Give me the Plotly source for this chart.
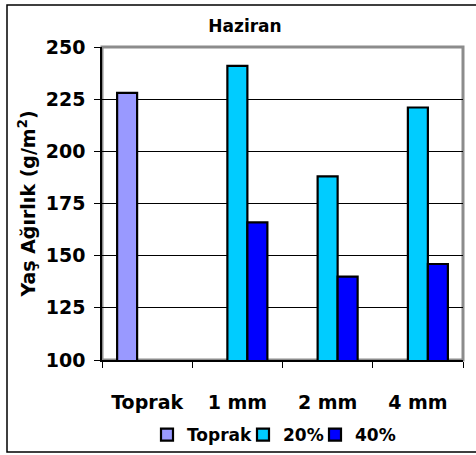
import plotly.graph_objects as go

# Categories and series values (fresh weight, g/m²)
categories = ["Toprak", "1 mm", "2 mm", "4 mm"]
series_names = ["Toprak", "20%", "40%"]
toprak_vals = [228, None, None, None]
pct20_vals = [None, 241, 188, 221]
pct40_vals = [None, 166, 140, 146]
y_ticks = [100, 125, 150, 175, 200, 225, 250]

colors = ["#9999FF", "#00CCFF", "#0000FF"]
legend_widths = [51, 27, 45]
FONT = "DejaVu Sans"

W, H = 476, 455
ML, MR, MT, MB = 102, 13, 47, 95
PW, PH = W - ML - MR, H - MT - MB

fig = go.Figure()
for name, vals, col, lw in zip(series_names, [toprak_vals, pct20_vals, pct40_vals], colors, legend_widths):
    fig.add_trace(go.Bar(
        x=categories, y=vals, name=name,
        marker=dict(color=col, line=dict(color="black", width=2.2)),
        legendwidth=lw,
    ))

def px_x(p):
    return (p - ML) / PW

def px_y(p):
    return (H - MB - p) / PH

shapes = [
    # grey plot-area frame
    dict(type="rect", xref="paper", yref="paper", x0=0, x1=1, y0=0, y1=1,
         line=dict(color="#8c8c8c", width=3), layer="below"),
    # outer chart border
    dict(type="rect", xref="paper", yref="paper",
         x0=px_x(7), x1=px_x(490), y0=px_y(452), y1=px_y(5),
         line=dict(color="black", width=1.5)),
]

fig.update_layout(
    width=W, height=H,
    margin=dict(l=ML, r=MR, t=MT, b=MB, autoexpand=False),
    paper_bgcolor="white", plot_bgcolor="white",
    barmode="group", bargap=0.335, bargroupgap=0,
    font=dict(family=FONT, color="black"),
    title=dict(text="<b>Haziran</b>", font=dict(family=FONT, size=17, color="black"),
               xref="container", yref="container", x=245 / W, xanchor="center",
               y=1 - 26 / H, yanchor="middle"),
    legend=dict(orientation="h", xref="paper", yref="paper",
                x=px_x(147), xanchor="left", y=px_y(435), yanchor="middle",
                font=dict(family=FONT, size=17, color="black", weight="bold"),
                bgcolor="rgba(0,0,0,0)", borderwidth=0),
    shapes=shapes,
)

fig.update_yaxes(
    range=[100, 250], tickvals=y_ticks, ticks="outside", ticklen=6,
    tickcolor="black", tickwidth=1,
    tickfont=dict(family=FONT, size=19, color="black", weight="bold"),
    ticklabelstandoff=5,
    showgrid=True, gridcolor="black", gridwidth=1,
    showline=True, linecolor="black", linewidth=1.5,
    zeroline=False,
    title=dict(text="<b>Yaş Ağırlık (g/m<sup>2</sup>)</b>",
               font=dict(family=FONT, size=19, color="black"), standoff=5),
)
fig.update_xaxes(
    type="category", categoryorder="array", categoryarray=categories,
    ticks="outside", tickson="boundaries", ticklen=6, tickcolor="black",
    tickfont=dict(family=FONT, size=19, color="black", weight="bold"),
    ticklabelstandoff=24,
    showline=True, linecolor="black", linewidth=1.5,
    showgrid=False,
)

fig.write_html("out.html")
